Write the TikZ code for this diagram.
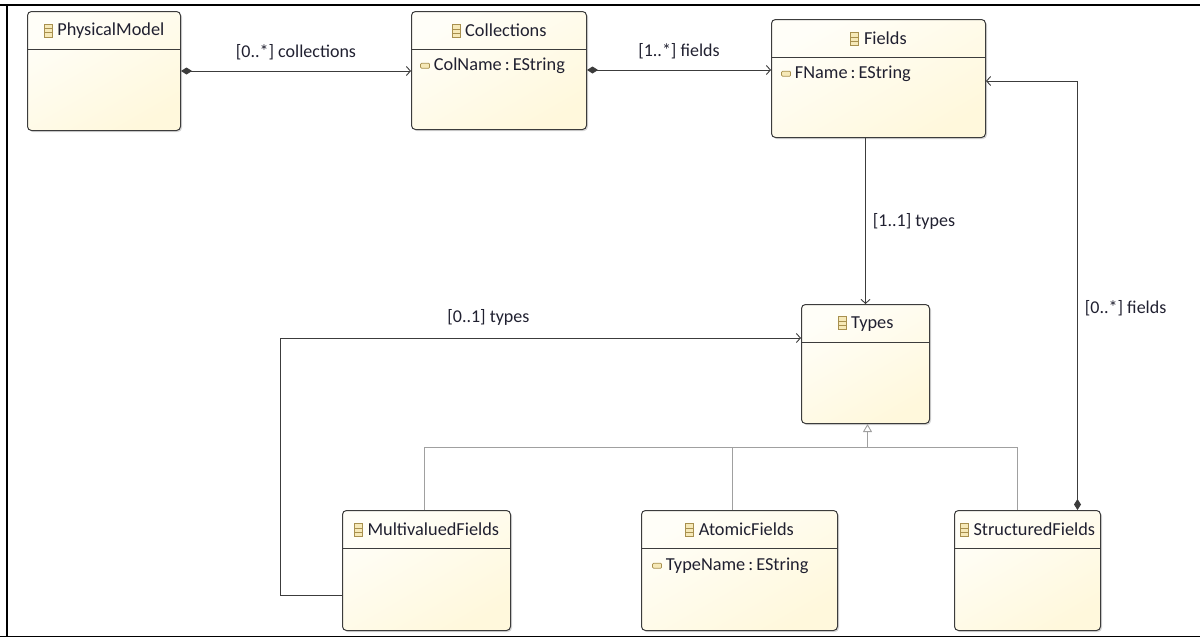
\documentclass[tikz,border=0pt]{standalone}
\usepackage{fontspec}
\setmainfont{Carlito}
\usepackage{xcolor}
\usepackage{tikz}
\usetikzlibrary{calc,arrows.meta,shadows,positioning}

\definecolor{boxline}{HTML}{3C3C3C}
\definecolor{boxtop}{HTML}{FFFEF8}
\definecolor{boxbot}{HTML}{FFF8DC}
\definecolor{txtc}{HTML}{202030}
\definecolor{iconline}{HTML}{A8904E}
\definecolor{iconfill}{HTML}{F6E9B8}
\definecolor{genc}{HTML}{A0A0A0}

\tikzset{
  classbox/.style={draw=boxline, line width=1pt, rounded corners=4pt,
    top color=boxtop, bottom color=boxbot, shading angle=30,
    drop shadow={shadow xshift=1.5pt, shadow yshift=-1.5pt, opacity=0.3},
    inner sep=0pt, anchor=north west},
  divider/.style={draw=boxline, line width=0.9pt},
  classname/.style={font=\fontsize{18.3}{20}\selectfont, text=txtc, inner sep=0pt},
  attr/.style={font=\fontsize{18.3}{20}\selectfont, text=txtc, inner sep=0pt, anchor=west},
  multlabel/.style={font=\fontsize{18}{20}\selectfont, text=txtc, inner sep=0pt},
  assoc/.style={draw=boxline, line width=0.9pt, -{Straight Barb[length=4pt,width=9pt]}},
  comp/.style={draw=boxline, line width=0.9pt,
    {Diamond[length=11pt,width=7pt]}-{Straight Barb[length=4pt,width=9pt]}},
  gen/.style={draw=genc, line width=0.9pt},
  icon/.style={draw=iconline, fill=iconfill, line width=0.7pt}
}

\newcommand{\clsicon}{\tikz[baseline=1pt]{%
  \draw[icon] (0pt,0pt) rectangle (8pt,13pt);
  \draw[iconline, line width=0.7pt] (0pt,4.3pt) -- (8pt,4.3pt) (0pt,8.6pt) -- (8pt,8.6pt);}\hspace{5pt}}
\newcommand{\attricon}{\tikz[baseline=-2.5pt]{%
  \draw[icon, rounded corners=1pt] (0pt,0pt) rectangle (9pt,5pt);}\hspace{4pt}}

\begin{document}
\begin{tikzpicture}[x=1pt,y=-1pt]
		\useasboundingbox (0,0) rectangle (1200,637);
		
		% page frame
		\draw[line width=1.3pt] (0,5) -- (1200,5);
		\draw[line width=2pt] (7,5) -- (7,636);
		\draw[line width=1pt] (0,636) -- (1200,636);
		
		% classes
		\node[classbox, minimum width=153, minimum height=119] (phys) at (27,11) {};
		\draw[divider] ([yshift=-38pt]phys.north west) -- ([yshift=-38pt]phys.north east);
		\node[classname] (physT) at ([yshift=-20pt]phys.north) {\clsicon PhysicalModel};
		
		\node[classbox, minimum width=175, minimum height=118] (coll) at (411,11) {};
		\draw[divider] ([yshift=-38pt]coll.north west) -- ([yshift=-38pt]coll.north east);
		\node[classname] (collT) at ([yshift=-20pt]coll.north) {\clsicon Collections};
		\node[attr] (collA) at ([xshift=9pt,yshift=-55pt]coll.north west) {\attricon ColName\,:\,EString};
		
		\node[classbox, minimum width=214, minimum height=118] (fields) at (771,19) {};
		\draw[divider] ([yshift=-38pt]fields.north west) -- ([yshift=-38pt]fields.north east);
		\node[classname] (fieldsT) at ([yshift=-20pt]fields.north) {\clsicon Fields};
		\node[attr] (fieldsA) at ([xshift=10pt,yshift=-55pt]fields.north west) {\attricon FName\,:\,EString};
		
		\node[classbox, minimum width=128, minimum height=119] (types) at (801,304) {};
		\draw[divider] ([yshift=-38pt]types.north west) -- ([yshift=-38pt]types.north east);
		\node[classname] (typesT) at ([yshift=-20pt]types.north) {\clsicon Types};
		
		\node[classbox, minimum width=168, minimum height=120] (multi) at (342,510) {};
		\draw[divider] ([yshift=-38pt]multi.north west) -- ([yshift=-38pt]multi.north east);
		\node[classname] (multiT) at ([yshift=-20pt]multi.north) {\clsicon MultivaluedFields};
		
		\node[classbox, minimum width=196, minimum height=120] (atomic) at (641,510) {};
		\draw[divider] ([yshift=-38pt]atomic.north west) -- ([yshift=-38pt]atomic.north east);
		\node[classname] (atomicT) at ([yshift=-20pt]atomic.north) {\clsicon AtomicFields};
		\node[attr] (atomicA) at ([xshift=11pt,yshift=-56pt]atomic.north west) {\attricon TypeName\,:\,EString};
		
		\node[classbox, minimum width=146, minimum height=120] (struct) at (954,510) {};
		\draw[divider] ([yshift=-38pt]struct.north west) -- ([yshift=-38pt]struct.north east);
		\node[classname] (structT) at ([yshift=-20pt]struct.north) {\clsicon StructuredFields};
		
		% associations
		\draw[comp] ([yshift=-60pt]phys.north east) -- node[multlabel, above=11pt] (lblColl) {[0..*] collections} ([yshift=-60pt]coll.north west);
		\draw[comp] ([yshift=-59pt]coll.north east) -- node[multlabel, above=11pt] (lblFields) {[1..*] fields} ([yshift=-51pt]fields.north west);
		\draw[assoc] (fields.south -| types.north) -- node[multlabel, right=7pt] (lblTypes) {[1..1] types} (types.north);
		
		\coordinate (sfTop) at ([xshift=50pt]struct.north);
		\draw[comp] (sfTop) |- node[multlabel, pos=0.235, right=7pt] (lblSub) {[0..*] fields} ([yshift=-62pt]fields.north east);
		
		\coordinate (loopB) at ([xshift=-62pt,yshift=-85pt]multi.north west);
		\draw[assoc] ([yshift=-85pt]multi.north west) -- (loopB) |- node[multlabel, pos=0.7, above=12pt] (lblMulti) {[0..1] types} ([yshift=-34pt]types.north west);
		
		% generalization
		\coordinate (genJ) at ([xshift=2pt,yshift=-23pt]types.south);
		\draw[gen] ([xshift=-2pt]multi.north) |- (genJ);
		\draw[gen] ([xshift=-10pt]struct.north) |- (genJ);
		\draw[gen] ([xshift=-7pt]atomic.north) -- ([xshift=-7pt]atomic.north |- genJ);
		\draw[gen, -{Triangle[open, length=8pt, width=9pt, fill=white]}] (genJ) -- ([xshift=2pt]types.south);
		\end{tikzpicture}
\end{document}
